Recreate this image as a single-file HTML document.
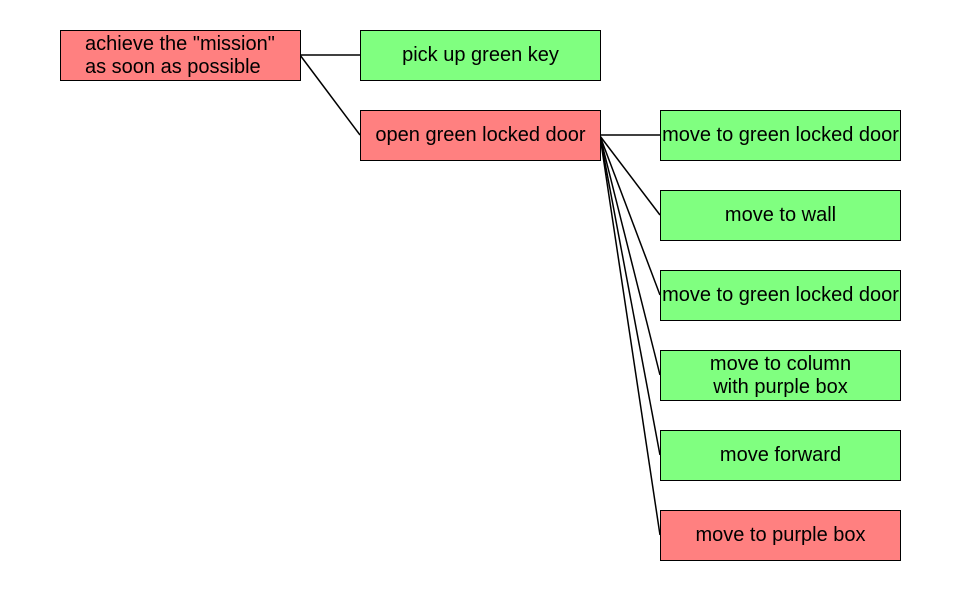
<!DOCTYPE html>
<html><head><style>
body{margin:0;background:#fff;width:960px;height:590px;position:relative;font-family:"Liberation Sans",sans-serif;}
.b{position:absolute;width:239px;height:49px;border:1px solid #000;display:flex;align-items:center;justify-content:center;text-align:center;font-size:20px;line-height:23px;box-sizing:content-box;white-space:nowrap}
.r{background:#ff8080}.g{background:#80ff80}
svg{position:absolute;left:0;top:0}
</style></head><body>
<svg width="960" height="590"><g stroke="#000" stroke-width="1.5">
<line x1="300" y1="55" x2="360" y2="55"/><line x1="300" y1="55" x2="360" y2="135"/>
<line x1="600" y1="135" x2="660" y2="135"/>
<line x1="600" y1="136" x2="660" y2="215"/>
<line x1="600" y1="136" x2="660" y2="295"/>
<line x1="600" y1="136" x2="660" y2="375"/>
<line x1="600" y1="136" x2="660" y2="455"/>
<line x1="600" y1="136" x2="660" y2="535"/>
</g></svg>
<div class="b r" style="left:60px;top:30px;justify-content:flex-start;text-align:left"><span style="padding-left:24px">achieve the "mission"<br>as soon as possible</span></div>
<div class="b g" style="left:360px;top:30px">pick up green key</div>
<div class="b r" style="left:360px;top:110px">open green locked door</div>
<div class="b g" style="left:660px;top:110px">move to green locked door</div>
<div class="b g" style="left:660px;top:190px">move to wall</div>
<div class="b g" style="left:660px;top:270px">move to green locked door</div>
<div class="b g" style="left:660px;top:350px">move to column<br>with purple box</div>
<div class="b g" style="left:660px;top:430px">move forward</div>
<div class="b r" style="left:660px;top:510px">move to purple box</div>
</body></html>
